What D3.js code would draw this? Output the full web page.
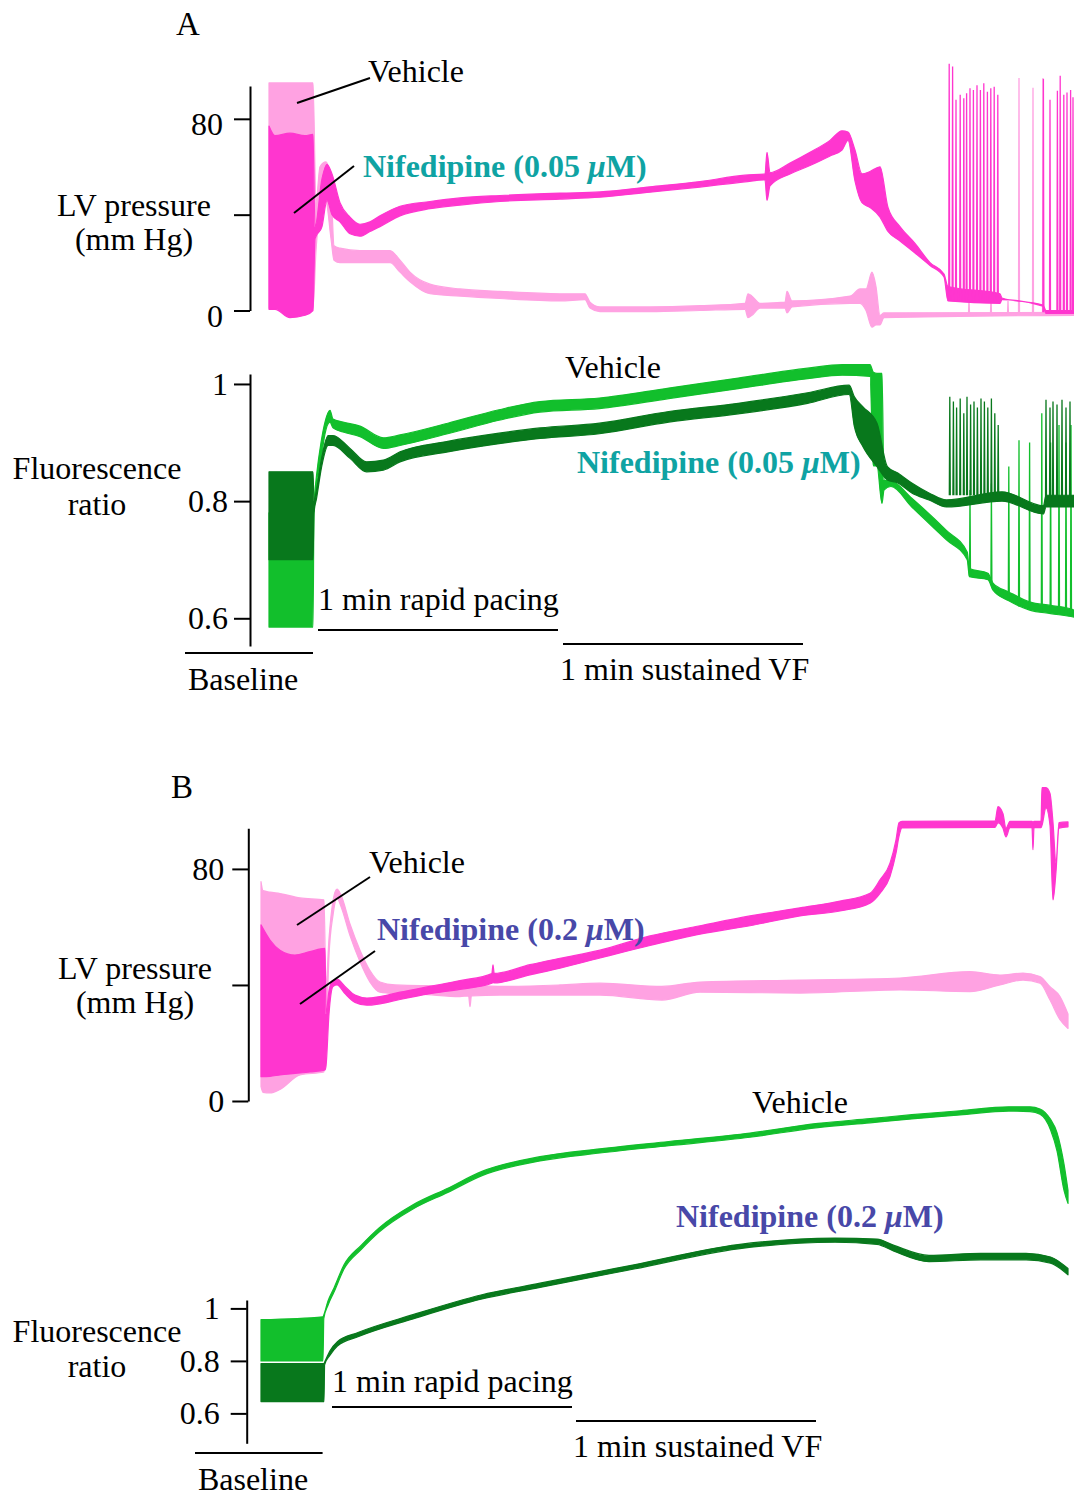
<!DOCTYPE html>
<html>
<head>
<meta charset="utf-8">
<script src="https://cdn.jsdelivr.net/npm/d3@7"></script>
<style>
body{margin:0;background:#fff;}
</style>
</head>
<body>
<script>
//DATA: time in s, values as [t, upper, lower] (noise band) or spikes [t, peak, base]
//panel A, LV pressure (mm Hg)
var pressVehA = [[0,95,1],[11,95,1],[11.75,45,25],[12.75,60,40],[14.25,62,45],[15.5,52,30],[16.25,27,21],[17.75,26,20],
 [22.75,25,20],[30.25,25,20],[32.75,21,16],[35.25,16,12],[40.25,11,7],[47.75,9,6],[57.75,8,5],[72.75,7,4],[79,7,4.5],
 [80.25,3.5,1],[82.75,1.5,-0.5],[95.25,1.5,-0.5],[107.75,2,0],[119,3,0.5],[119.75,7,-3],[120.75,6,-2],[122.75,3,1],
 [129,3.5,1],[129.5,8,-1],[130.75,4,1.5],[145.25,6,3],[147.75,9,3],[149.25,9,0],[150.75,16,-7],[151.75,10,-6],
 [152.75,-2,-6],[153.75,-1,-3],[201.25,-0.8,-2]];
var pressVehA_spikes = [[175,5,-1.3],[180.5,6,-1.3],[184.75,4,-1.3],[187.5,97,-1.3],[191,93,-1.3],[193.5,97,-1.3]];
var pressNifA = [[0,77,0.5],[1.5,73,0.5],[5.25,74,-3],[9,73,-2],[11,73.5,0],[11.5,35,30],[13.25,55,35],[14.5,61,46],
 [15.75,57,40],[17.75,45,37],[20.25,39,32],[22.75,36,31],[25.25,37,33],[27.75,39.5,35],[32.75,43.5,39.5],[40.25,45.5,42.5],
 [47.75,47,44],[57.75,48,45.5],[72.75,49,46.5],[82.75,49.5,47.3],[95.25,51.6,49.4],[107.75,53.8,51.5],[119,56.5,53.7],
 [124,57,54.5],[124.5,66,46],[125.25,57.5,52],[130.25,61.5,57],[135.25,66,60.5],[140.25,71,64.5],[143.25,75,67],
 [144.75,74.5,71],[146.5,67,54],[148.25,57,45],[150.25,58,43],[152.75,60,39],[154.75,43,33],[157.75,35,29],
 [161.5,28,24],[165.25,20,18.8],[168.75,15.2,14],[169.75,10,4],[182.75,7,3],[183.25,5.2,4.5],[193.5,2.3,1.8],
 [194.25,0,-1.2],[201.25,0,-1.2]];
var pressNifA_spikes = [[170.05,103,4],[170.9,101.8,4],[171.75,88,4],[172.8,90,4],[173.7,88.6,4],[174.4,90.7,4],
 [175.25,92.8,4],[176.1,92,4],[177,94,4],[177.85,92,4],[178.7,94.8,4],[179.6,91.3,4],[180.45,92.8,4],[181.3,93.4,4],
 [182.2,90,4],[193.6,96.6,-0.7],[195.25,88,-0.7],[197.1,91.7,-0.7],[197.8,98,-0.7],[198.7,90,-0.7],[199.5,91,-0.7],
 [200.4,92,-0.7],[201,89,-0.7]];
//panel A, fluorescence ratio
var fluoVehA = [[0,0.78,0.585],[11,0.78,0.585],[11.25,0.80,0.78],[11.9,0.845,0.825],[13,0.90,0.87],[14,0.935,0.915],
 [15.25,0.955,0.935],[16,0.94,0.925],[18.5,0.935,0.918],[22.75,0.928,0.91],[28.6,0.908,0.89],[32.75,0.913,0.895],
 [44.7,0.933,0.915],[57.5,0.956,0.938],[67.75,0.97,0.952],[82.6,0.976,0.958],[99.95,0.993,0.975],[117.3,1.01,0.992],
 [134.65,1.027,1.009],[143.3,1.033,1.015],[150.25,1.033,1.013],[151.1,1.02,0.86],[152,1.018,0.86],[153.25,1.018,0.796],
 [153.75,0.836,0.819],[155.5,0.835,0.825],[160.7,0.805,0.79],[169.35,0.75,0.734],[174.55,0.713,0.70],[175.1,0.685,0.671],
 [179.75,0.677,0.666],[181,0.66,0.648],[184.95,0.645,0.63],[190.15,0.628,0.614],[195.4,0.622,0.608],[200.5,0.616,0.603],
 [201.25,0.614,0.602]];
var fluoVehA_spikes = [[175.25,0.819,0.672],[180.6,0.83,0.662],[184.95,0.859,0.635],[187.5,0.904,0.62],[190.15,0.90,0.618],
 [193.2,0.95,0.612],[195.4,0.90,0.612],[197.5,0.93,0.61],[199.25,0.90,0.607],[200.5,0.93,0.606]];
var fluoNifA = [[0,0.85,0.70],[11,0.85,0.70],[11.25,0.80,0.78],[11.9,0.82,0.805],[13.2,0.875,0.86],[14.8,0.912,0.895],
 [16,0.912,0.895],[20.25,0.89,0.873],[24.4,0.867,0.85],[28.6,0.87,0.853],[32.75,0.884,0.867],[44.7,0.902,0.884],
 [57.5,0.916,0.898],[67.75,0.925,0.907],[82.6,0.933,0.915],[99.95,0.953,0.935],[117.3,0.967,0.949],[134.65,0.985,0.967],
 [145.05,0.998,0.982],[146.35,0.978,0.927],[148.5,0.961,0.893],[152,0.933,0.859],[154.6,0.859,0.836],[157.2,0.848,0.831],
 [160.7,0.831,0.814],[165,0.814,0.802],[169.35,0.802,0.79],[183.25,0.816,0.80],[193.6,0.792,0.778],[194.25,0.81,0.79],
 [201.25,0.81,0.79]];
var fluoNifA_spikes = [[170.2,0.978,0.81],[171.1,0.97,0.81],[171.9,0.96,0.81],[172.8,0.975,0.81],[173.7,0.95,0.81],
 [174.5,0.978,0.81],[175.4,0.965,0.81],[176.25,0.97,0.81],[177.1,0.96,0.81],[178,0.975,0.81],[178.85,0.97,0.81],
 [179.7,0.96,0.81],[180.6,0.975,0.81],[181.45,0.95,0.81],[182.3,0.93,0.81],[194.25,0.973,0.80],[195.25,0.96,0.80],
 [196,0.97,0.80],[197,0.965,0.80],[198.25,0.973,0.80],[199.25,0.96,0.80],[200.25,0.97,0.80]];
//panel B, LV pressure (mm Hg)
var pressVehB = [[0,75.6,5],[0.5,72.5,3],[2.25,72,2.8],[4.75,71.5,4],[9.75,70,9],[15.75,69.3,10],[16.25,40,20],[17,56,50],
 [18,69,64],[19,73,70],[20,71,67],[22.25,61,57],[24.75,52,48],[27.25,45,41],[29.75,41,37.5],[33.5,40,37],[39.75,39.8,36.8],
 [49.75,40,36],[51.9,39.8,36.2],[52.25,39,32.5],[52.6,39.8,36.2],[59.75,39.5,36.5],[74.75,40,36.5],[84.75,40.6,36.5],
 [100.25,39.5,34.8],[109.75,41,37.5],[134.75,41.7,37.2],[159.75,42.4,38.3],[177.25,44.6,37.7],[184.75,43.4,40],
 [190.5,44.1,41.7],[194.75,42.9,40.6],[197.25,39.4,34.8],[199.75,36,28],[201.75,30,25]];
var pressNifB = [[0,60.7,8.4],[2.25,55.5,8.5],[4.75,52,9],[8.5,50.3,9.5],[12.25,51.5,10],[16,52.6,10.7],[16.25,30,12],
 [17,38,30],[18,41.5,39.5],[19,42,40],[21,39.5,37],[23.5,36.5,34],[26.5,35.5,33],[29.75,36,33.5],[34.75,37.5,35],
 [42.25,39.5,37],[49.75,41.5,38.5],[57.7,43.9,40.6],[58,46.9,40.8],[58.3,44,40.7],[67.25,47,43.5],[74.75,49.2,45.8],
 [84.75,52,49.3],[97.25,56.9,53.6],[109.75,60.4,57.5],[122.25,63.8,60.4],[134.75,66.6,63.8],[144.75,68.9,65.5],
 [152.25,71.6,68.2],[154.75,76.2,71.6],[157.25,82,77.4],[158.75,90,85.4],[159.5,95.9,91.2],[160.25,96.4,94.1],
 [183.5,96.5,94.3],[184.25,101.5,95.9],[185.5,99,94],[186.25,94,91],[187.25,96.4,94.2],[192.75,96.4,94.2],[193,96,86.6],
 [193.25,96.4,94.2],[195,96.4,94.2],[195.25,108,95],[196.25,108,101],[197.25,106,95],[198,96,69.3],[198.75,82,79],
 [199.5,96,94],[201.75,96.2,94.5]];
//panel B, fluorescence ratio
var fluoVehB = [[0,0.957,0.80],[15.5,0.968,0.80],[15.7,0.975,0.962],[16.75,1.028,1.012],[18.25,1.078,1.062],
 [20.75,1.166,1.15],[25.15,1.242,1.226],[29.45,1.306,1.29],[38,1.395,1.379],[46.7,1.458,1.442],[55.25,1.522,1.506],
 [69.75,1.578,1.562],[84.75,1.608,1.592],[101.95,1.636,1.62],[122.25,1.668,1.652],[139.25,1.705,1.689],[152.25,1.723,1.707],
 [162.7,1.738,1.722],[174.75,1.753,1.737],[186.95,1.768,1.752],[192.25,1.768,1.75],[194.75,1.76,1.74],[197.4,1.72,1.68],
 [199,1.67,1.6],[200.75,1.55,1.45],[201.75,1.45,1.40]];
var fluoNifB = [[0,0.79,0.645],[15.75,0.79,0.645],[15.9,0.795,0.785],[17.25,0.838,0.822],[19.1,0.873,0.857],
 [24.25,0.908,0.892],[38,0.976,0.96],[55.25,1.052,1.036],[69.75,1.096,1.08],[93.25,1.166,1.15],[119.25,1.243,1.227],
 [143.5,1.268,1.252],[154,1.264,1.244],[158.25,1.24,1.218],[167,1.202,1.178],[180,1.21,1.185],[191.25,1.21,1.185],
 [197.4,1.196,1.172],[201.75,1.152,1.128]];
//protocol bars [label, start s, end s]
var barsA = [["Baseline",-21,11],["1 min rapid pacing",12.25,72.25],["1 min sustained VF",73.5,133.5]];
var barsB = [["Baseline",-16.5,15.4],["1 min rapid pacing",17.75,77.75],["1 min sustained VF",78.75,138.75]];
var pressTicks = [0,40,80];
var fluoTicks = [0.6,0.8,1];

var colVeh = "#ffa2e2", colNif = "#ff36cf", colVehF = "#12bf2c", colNifF = "#08781c";
var FONT = "'Liberation Serif','Times New Roman',serif";
var FS = "32px";

var svg = d3.select("body").append("svg").attr("width",1074).attr("height",1497);
svg.append("rect").attr("width",1074).attr("height",1497).attr("fill","white");

//scales, 4 px per second
var xA = d3.scaleLinear().domain([0,60]).range([269,509]);
var xB = d3.scaleLinear().domain([0,60]).range([261,501]);
var yPA = d3.scaleLinear().domain([0,93.7]).range([310.5,86]);
var yFA = d3.scaleLinear().domain([0.5527,1.017]).range([646,374]);
var yPB = d3.scaleLinear().domain([0,94]).range([1101,828.3]);
var yFB = d3.scaleLinear().domain([0.486,1.032]).range([1443.3,1300]);

function band(x, y, data, colour){
   var area = d3.area().curve(d3.curveMonotoneX)
      .x(function(d){return x(d[0]);}).y0(function(d){return y(d[2]);}).y1(function(d){return y(d[1]);});
   svg.append("path").attr("d", area(data)).attr("fill", colour).attr("stroke", colour)
      .attr("stroke-width", 1.2).attr("stroke-linejoin","round");
}
function spikes(x, y, data, colour){
   var line = d3.line().x(function(d){return x(d[0]);}).y(function(d){return y(d[1]);});
   data.forEach(function(s){
      svg.append("path").attr("d", line([[s[0]-0.12,s[2]],[s[0],s[1]],[s[0]+0.12,s[2]]]))
         .attr("fill","none").attr("stroke",colour).attr("stroke-width",1.3);
   });
}
function axis(y, xpos, ticks, fmt, pad, dy){
   var g = svg.append("g").attr("transform","translate("+xpos+",0)")
      .call(d3.axisLeft(y).tickValues(ticks).tickFormat(fmt).tickSize(16).tickSizeOuter(0).tickPadding(pad));
   g.select(".domain").attr("stroke","black").attr("stroke-width",2);
   g.selectAll(".tick line").attr("stroke","black").attr("stroke-width",2);
   g.selectAll(".tick text").attr("font-family",FONT).attr("font-size",FS).attr("fill","black")
      .attr("dy",dy);
}
function text(t, x, y, anchor, opts){
   opts = opts || {};
   return svg.append("text").text(t).attr("x",x).attr("y",y).attr("text-anchor",anchor)
      .attr("font-family",FONT).attr("font-size",opts.size || FS).attr("fill",opts.fill || "black")
      .attr("font-weight",opts.weight || "normal");
}
function nifLabel(x, y, conc, colour){
   var t = svg.append("text").attr("x",x).attr("y",y).attr("font-family",FONT).attr("font-size",FS)
      .attr("font-weight","bold").attr("fill",colour);
   t.append("tspan").text("Nifedipine ("+conc+" ");
   t.append("tspan").text("\u03bc").attr("font-style","italic");
   t.append("tspan").text("M)");
}
function leader(x1,y1,x2,y2){
   svg.append("line").attr("x1",x1).attr("y1",y1).attr("x2",x2).attr("y2",y2)
      .attr("stroke","black").attr("stroke-width",2);
}
function bars(x, data, ys){
   data.forEach(function(b,i){
      svg.append("line").attr("x1",x(b[1])).attr("x2",x(b[2])).attr("y1",ys[i]).attr("y2",ys[i])
         .attr("stroke","black").attr("stroke-width",2);
   });
}
var fmtP = function(d){return d===40 ? "" : d;};
var fmtF = function(d){return d===1 ? "1" : d3.format(".1f")(d);};

//PANEL A
text("A",176,35,"start",{size:"33px"});
band(xA, yPA, pressVehA, colVeh);
spikes(xA, yPA, pressVehA_spikes, colVeh);
band(xA, yPA, pressNifA, colNif);
spikes(xA, yPA, pressNifA_spikes, colNif);
axis(yPA, 250, pressTicks, fmtP, 11, "0.5em");
text("LV pressure",134,216,"middle");
text("(mm Hg)",134,250,"middle");
text("Vehicle",368,82,"start");
leader(297,103,370,78);
nifLabel(363,177,"0.05","#0fa3a3");
leader(294,213,354,166);

band(xA, yFA, fluoVehA, colVehF);
spikes(xA, yFA, fluoVehA_spikes, colVehF);
band(xA, yFA, fluoNifA, colNifF);
spikes(xA, yFA, fluoNifA_spikes, colNifF);
axis(yFA, 250, fluoTicks, fmtF, 6, "0.32em");
text("Fluorescence",97,479,"middle");
text("ratio",97,515,"middle");
text("Vehicle",565,378,"start");
nifLabel(577,473,"0.05","#0fa3a3");
bars(xA, barsA, [653,630,644]);
text(barsA[0][0],243,690,"middle");
text(barsA[1][0],318,610,"start");
text(barsA[2][0],560,680,"start");

//PANEL B
text("B",171,798,"start",{size:"33px"});
band(xB, yPB, pressVehB, colVeh);
band(xB, yPB, pressNifB, colNif);
axis(yPB, 248.3, pressTicks, fmtP, 8, "0.32em");
text("LV pressure",135,979,"middle");
text("(mm Hg)",135,1013,"middle");
text("Vehicle",369,873,"start");
leader(297,925,370,877);
nifLabel(377,940,"0.2","#4848a8");
leader(300,1004,375,951);

band(xB, yFB, fluoVehB, colVehF);
band(xB, yFB, fluoNifB, colNifF);
axis(yFB, 246.7, fluoTicks, fmtF, 11, "0.32em");
text("Fluorescence",97,1342,"middle");
text("ratio",97,1377,"middle");
text("Vehicle",752,1113,"start");
nifLabel(676,1227,"0.2","#4848a8");
bars(xB, barsB, [1453,1407,1421]);
text(barsB[0][0],253,1490,"middle");
text(barsB[1][0],332,1392,"start");
text(barsB[2][0],573,1457,"start");
</script>
</body>
</html>
